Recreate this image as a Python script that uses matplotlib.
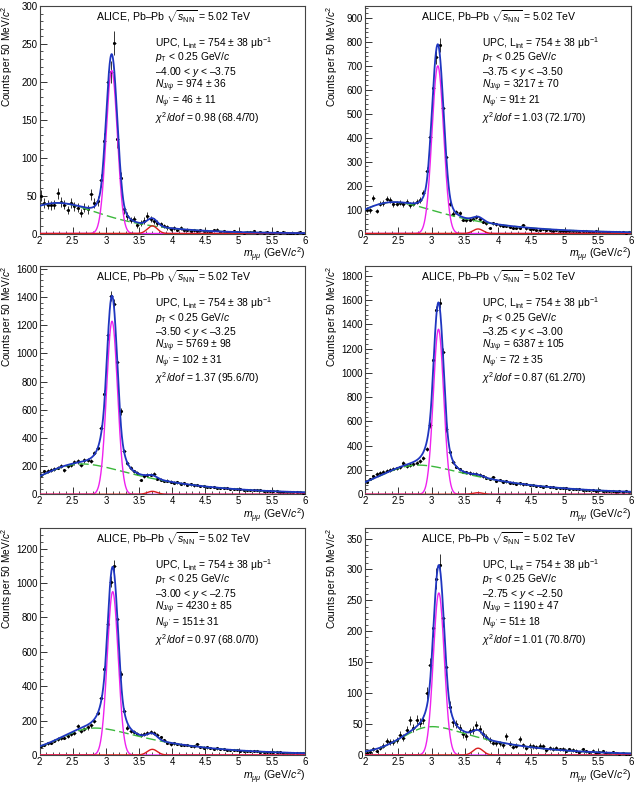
import numpy as np
import matplotlib
matplotlib.use("Agg")
import matplotlib.pyplot as plt
from matplotlib.ticker import MultipleLocator, AutoMinorLocator, FuncFormatter

plt.rcParams['font.family'] = ['Liberation Sans', 'DejaVu Sans']
plt.rcParams['mathtext.fontset'] = 'custom'
plt.rcParams['mathtext.rm'] = 'Liberation Sans'
plt.rcParams['mathtext.it'] = 'Liberation Sans:italic'
plt.rcParams['mathtext.bf'] = 'Liberation Sans:bold'

# ---------------- data ----------------
mass_centers = np.linspace(2.025, 5.975, 80)

counts_p1 = [50, 40, 38, 37, 38, 53, 42, 38, 31, 40, 36, 34, 27, 34, 32, 52, 40, 43, 70, 122,
             200, 213, 251, 124, 73, 32, 23, 18, 19, 11, 14, 17, 23, 19, 16, 14, 12, 10, 8, 6,
             7, 5, 7, 4, 5, 3, 4, 3, 4, 3, 3, 2, 4, 5, 2, 3, 2, 2, 3, 2,
             2, 1, 2, 2, 3, 1, 2, 1, 2, 1, 1, 2, 1, 2, 1, 0, 1, 1, 2, 1]
counts_p2 = [100, 97, 147, 94, 125, 128, 146, 139, 122, 125, 129, 122, 133, 119, 125, 133, 139, 169, 261, 403,
             607, 736, 787, 525, 320, 125, 83, 90, 86, 58, 56, 58, 61, 67, 62, 49, 42, 24, 42, 39,
             35, 32, 31, 28, 25, 22, 24, 35, 21, 18, 19, 16, 15, 17, 14, 13, 12, 14, 11, 12,
             10, 11, 9, 10, 8, 9, 10, 7, 8, 9, 7, 6, 8, 7, 6, 5, 7, 6, 4, 5]
counts_p3 = [138, 162, 167, 174, 181, 190, 202, 169, 202, 210, 226, 233, 210, 240, 245, 236, 293, 330, 470, 710,
             1131, 1407, 1348, 940, 590, 305, 221, 186, 162, 150, 102, 130, 138, 140, 145, 110, 104, 94, 97, 90,
             82, 85, 76, 77, 69, 70, 63, 65, 57, 58, 52, 55, 49, 47, 48, 43, 44, 39, 40, 36,
             37, 33, 34, 30, 31, 27, 28, 25, 23, 24, 21, 22, 19, 18, 19, 16, 15, 16, 13, 12]
counts_p4 = [104, 125, 150, 167, 178, 186, 194, 200, 211, 214, 222, 255, 233, 241, 247, 260, 274, 296, 373, 570,
             1104, 1515, 1575, 1173, 540, 350, 265, 228, 205, 185, 180, 176, 170, 168, 160, 150, 136, 125, 140, 112,
             118, 104, 106, 96, 97, 88, 90, 81, 84, 75, 76, 68, 70, 62, 65, 57, 59, 52, 55, 48,
             50, 44, 46, 41, 42, 36, 39, 33, 36, 30, 32, 28, 31, 26, 28, 23, 25, 21, 24, 20]
counts_p5 = [50, 58, 68, 72, 82, 93, 97, 101, 110, 122, 126, 170, 140, 150, 160, 172, 198, 246, 333, 498,
             760, 1008, 1100, 790, 469, 258, 159, 141, 136, 125, 118, 120, 128, 136, 130, 118, 102, 85, 70, 62,
             68, 64, 61, 57, 58, 52, 50, 64, 46, 43, 44, 40, 37, 38, 34, 33, 31, 30, 28, 29,
             26, 25, 23, 25, 21, 22, 19, 18, 17, 18, 16, 15, 16, 14, 13, 14, 12, 11, 13, 10]
counts_p6 = [3, 5, 10, 7, 11, 15, 22, 21, 21, 24, 33, 28, 40, 56, 44, 57, 52, 57, 100, 145,
             205, 285, 307, 222, 142, 78, 53, 50, 44, 34, 30, 38, 40, 48, 42, 34, 29, 24, 20, 19,
             19, 16, 30, 18, 13, 15, 26, 16, 11, 15, 14, 13, 15, 14, 8, 11, 10, 11, 9, 10,
             7, 9, 8, 7, 5, 9, 6, 5, 7, 4, 5, 6, 4, 3, 5, 3, 2, 3, 2, 2]

all_counts = [counts_p1, counts_p2, counts_p3, counts_p4, counts_p5, counts_p6]
for c in all_counts:
    assert len(c) == 80, len(c)

# fit-function parameters
jpsi_amp = [215, 700, 1228, 1359, 950, 262]
jpsi_mean = [3.088, 3.095, 3.093, 3.105, 3.103, 3.11]
jpsi_sigma = [0.085, 0.087, 0.082, 0.078, 0.082, 0.082]
tail_alpha_left = [1.8, 1.8, 1.3, 1.3, 1.3, 1.5]
tail_alpha_right = [2.0, 2.0, 1.6, 1.6, 1.6, 1.6]
tail_n = 4.0
psip_amp = [10, 19, 21, 13, 33, 11]
psip_mean = 3.70
psip_sigma = 0.075
bkg_A = [92, 280, 524, 630, 462, 173]
bkg_lambda = [1.3, 1.0, 0.9, 0.85, 0.95, 1.05]
bkg_xr = [2.125, 2.167, 2.34, 2.48, 2.55, 2.75]
bkg_w = [0.293, 0.284, 0.30, 0.287, 0.26, 0.22]

y_max = [300, 950, 1620, 1880, 1320, 367]
y_major = [50, 100, 200, 200, 200, 50]

rapidity_labels = ["–4.00 < $y$ < –3.75", "–3.75 < $y$ < –3.50", "–3.50 < $y$ < –3.25",
                   "–3.25 < $y$ < –3.00", "–3.00 < $y$ < –2.75", "–2.75 < $y$ < –2.50"]
n_jpsi = ["974 ± 36", "3217 ± 70", "5769 ± 98", "6387 ± 105", "4230 ± 85", "1190 ± 47"]
n_psip = ["46 ± 11", "91± 21", "102 ± 31", "72 ± 35", "151± 31", "51± 18"]
chi2 = ["0.98 (68.4/70)", "1.03 (72.1/70)", "1.37 (95.6/70)", "0.87 (61.2/70)",
        "0.97 (68.0/70)", "1.01 (70.8/70)"]


# ---------------- model functions ----------------
def bkg(x, A, lam, xr, w):
    return A * np.exp(-lam * (x - 2.0)) / (1.0 + np.exp(-(x - xr) / w))


def gauss(x, A, mu, s):
    return A * np.exp(-0.5 * ((x - mu) / s) ** 2)


def cb2(x, A, mu, s, aL, aR, n):
    t = (x - mu) / s
    out = np.exp(-0.5 * t ** 2)
    AL = (n / aL) ** n * np.exp(-0.5 * aL ** 2)
    BL = n / aL - aL
    AR = (n / aR) ** n * np.exp(-0.5 * aR ** 2)
    BR = n / aR - aR
    m = t < -aL
    out[m] = AL * (BL - t[m]) ** (-n)
    m = t > aR
    out[m] = AR * (BR + t[m]) ** (-n)
    return A * out


# ---------------- figure ----------------
fig = plt.figure(figsize=(6.39, 7.97), dpi=100)
W, H = 639.0, 797.0
col_left = [39.5, 365.0]
col_width = [265.5, 266.0]
row_top = [6.0, 266.0, 528.0]
row_bottom = [233.5, 494.3, 755.0]

xx = np.linspace(2.0, 6.0, 1200)
fs = 7.6
fs_info = 7.4

for k in range(6):
    r, c = divmod(k, 2)
    left = col_left[c] / W
    bottom = 1 - row_bottom[r] / H
    height = (row_bottom[r] - row_top[r]) / H
    ax = fig.add_axes([left, bottom, col_width[c] / W, height])

    cnt = np.array(all_counts[k], dtype=float)
    ax.errorbar(mass_centers, cnt, yerr=np.sqrt(cnt), xerr=0.025, fmt='.', color='black',
                ecolor='#333333', ms=2.5, elinewidth=0.7, capsize=0, zorder=3)

    b = bkg(xx, bkg_A[k], bkg_lambda[k], bkg_xr[k], bkg_w[k])
    j_core = gauss(xx, jpsi_amp[k], jpsi_mean[k], jpsi_sigma[k])
    j_full = cb2(xx, jpsi_amp[k], jpsi_mean[k], jpsi_sigma[k],
                 tail_alpha_left[k], tail_alpha_right[k], tail_n)
    p = gauss(xx, psip_amp[k], psip_mean, psip_sigma)
    total = b + j_full + p

    ax.plot(xx, b, color='#3cb83c', lw=1.0, ls=(0, (7, 3)), zorder=4)
    ax.plot(xx, j_core, color='#ee22ee', lw=1.0, zorder=4)
    ax.plot(xx, p, color='#d81e1e', lw=1.0, zorder=4)
    ax.plot(xx, total, color='#1f36c0', lw=1.3, zorder=5)

    ax.set_xlim(2, 6)
    ax.set_ylim(0, y_max[k])
    ax.xaxis.set_major_locator(MultipleLocator(0.5))
    ax.xaxis.set_minor_locator(MultipleLocator(0.1))
    ax.yaxis.set_major_locator(MultipleLocator(y_major[k]))
    ax.yaxis.set_minor_locator(AutoMinorLocator(5))
    ax.xaxis.set_major_formatter(FuncFormatter(lambda v, pos: f"{v:g}"))
    ax.tick_params(which='both', direction='in', top=False, right=False, labelsize=6.9,
                   color='#333333')
    ax.tick_params(which='major', length=5, width=0.7, pad=1.5)
    ax.tick_params(which='minor', length=2.5, width=0.6)
    for s in ax.spines.values():
        s.set_linewidth(0.8)
        s.set_color('#444444')

    ax.text(-0.122, 1.0, "Counts per 50 MeV/$c^{2}$", transform=ax.transAxes, rotation=90,
            ha='center', va='top', fontsize=7.3)
    ax.text(1.0, -0.095, r"$m_{\mu\mu}$ (GeV/$c^{2}$)", transform=ax.transAxes,
            ha='right', va='center', fontsize=fs)

    ax.text(0.505, 0.952, r"ALICE, Pb–Pb $\sqrt{s_{\mathrm{NN}}}$ = 5.02 TeV",
            transform=ax.transAxes, ha='center', va='center', fontsize=fs)
    xt = 0.435 if c == 0 else 0.439
    lines = [r"UPC, L$_{\mathrm{int}}$ = 754 ± 38 μb$^{-1}$",
             r"$p_{\mathrm{T}}$ < 0.25 GeV/$c$",
             rapidity_labels[k],
             r"$N_{\mathrm{J}/\psi}$ = " + n_jpsi[k],
             r"$N_{\psi'}$ = " + n_psip[k],
             r"$\chi^{2}/dof$ = " + chi2[k]]
    ys = [0.837, 0.774, 0.711, 0.649, 0.579, 0.508]
    for tx, yy in zip(lines, ys):
        ax.text(xt, yy, tx, transform=ax.transAxes, ha='left', va='center', fontsize=fs_info)

fig.savefig("out.png", dpi=100)
